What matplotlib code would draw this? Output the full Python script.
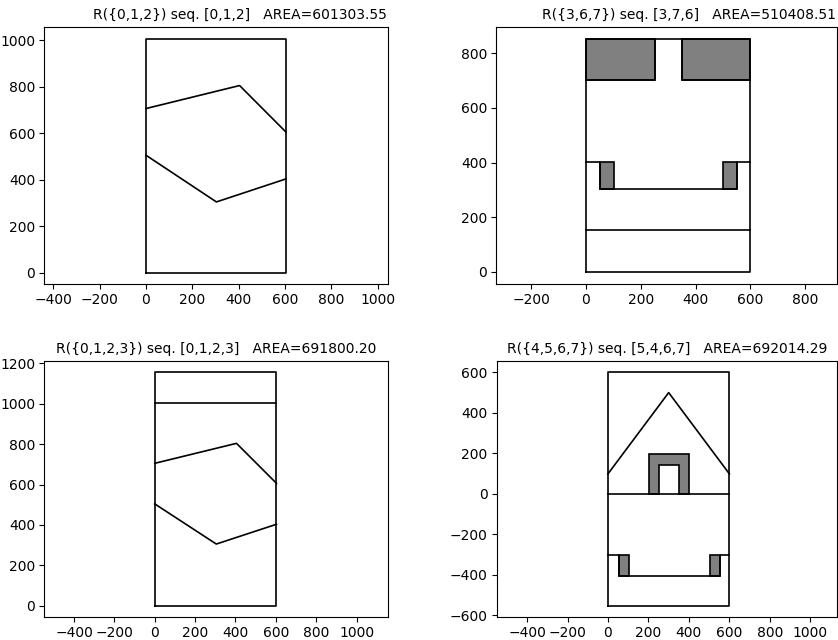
import matplotlib
matplotlib.use("Agg")
import matplotlib.pyplot as plt
from matplotlib.ticker import MultipleLocator

# ---- data ----
titles = [
    "R({0,1,2}) seq. [0,1,2]   AREA=601303.55",
    "R({3,6,7}) seq. [3,7,6]   AREA=510408.51",
    "R({0,1,2,3}) seq. [0,1,2,3]   AREA=691800.20",
    "R({4,5,6,7}) seq. [5,4,6,7]   AREA=692014.29",
]

# bounding rectangles (x0, y0, x1, y1)
bounds = [
    (0, 0, 604, 1006),
    (0, 0, 600, 852),
    (0, 0, 603, 1156),
    (0, -553, 600, 600),
]

# outline polylines per panel
outlines = [
    [
        [(0, 506), (304, 305), (604, 404)],
        [(0, 707), (404, 806), (604, 606)],
    ],
    [
        [(0, 152), (600, 152)],
        [(0, 401), (51, 401), (51, 302), (551, 302), (551, 401), (600, 401)],
        [(0, 703), (251, 703), (251, 852)],
        [(350, 852), (350, 703), (600, 703)],
    ],
    [
        [(0, 504), (305, 305), (603, 403)],
        [(0, 705), (405, 804), (603, 606)],
        [(0, 1005), (603, 1005)],
    ],
    [
        [(0, 99), (300, 500), (600, 99)],
        [(0, 0), (600, 0)],
        [(0, -303), (54, -303), (54, -404), (553, -404), (553, -303), (600, -303)],
    ],
]

# grey (waste) regions per panel
waste = [
    [],
    [
        [(0, 703), (251, 703), (251, 852), (0, 852)],
        [(350, 703), (600, 703), (600, 852), (350, 852)],
        [(51, 302), (101, 302), (101, 401), (51, 401)],
        [(500, 302), (551, 302), (551, 401), (500, 401)],
    ],
    [],
    [
        [(203, 0), (203, 198), (402, 198), (402, 0), (352, 0), (352, 145), (254, 145), (254, 0)],
        [(54, -303), (105, -303), (105, -404), (54, -404)],
        [(502, -303), (553, -303), (553, -404), (502, -404)],
    ],
]

xlims = [(-439, 1046), (-327, 916), (-547, 1157), (-550, 1132)]
ylims = [(-47, 1058), (-43, 896), (-54, 1212), (-605, 656)]
title_x = [0.568, 0.566, 0.5, 0.5]

# axes boxes in pixels: left, right, top, bottom
boxes_px = [
    (44.3, 388.3, 27, 283.7),
    (496.3, 837, 27, 283.7),
    (44.3, 388.3, 361, 616.5),
    (496.7, 837, 361, 616.5),
]

W, H = 838, 640
fig = plt.figure(figsize=(W / 100, H / 100), dpi=100)

for i in range(4):
    l, r, t, b = boxes_px[i]
    ax = fig.add_axes([l / W, 1 - b / H, (r - l) / W, (b - t) / H])
    for poly in waste[i]:
        xs = [p[0] for p in poly]
        ys = [p[1] for p in poly]
        ax.fill(xs, ys, facecolor="gray", edgecolor="black", linewidth=1.2)
    for line in outlines[i]:
        xs = [p[0] for p in line]
        ys = [p[1] for p in line]
        ax.plot(xs, ys, color="black", linewidth=1.2)
    x0, y0, x1, y1 = bounds[i]
    ax.plot([x0, x1, x1, x0, x0], [y0, y0, y1, y1, y0], color="black", linewidth=1.2)
    ax.set_xlim(*xlims[i])
    ax.set_ylim(*ylims[i])
    ax.xaxis.set_major_locator(MultipleLocator(200))
    ax.yaxis.set_major_locator(MultipleLocator(200))
    ax.set_title(titles[i], fontsize=10, x=title_x[i])
    ax.tick_params(labelsize=10, pad=3)

fig.savefig("out.png", dpi=100)
